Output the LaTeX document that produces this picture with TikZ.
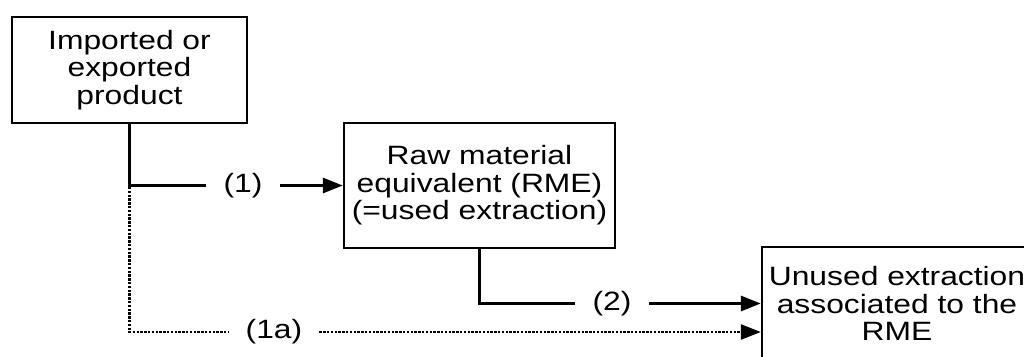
\documentclass[tikz,border=0pt]{standalone}
\usepackage{fontspec}
\setmainfont{Liberation Sans}[FakeStretch=1.2]
\usetikzlibrary{arrows.meta}
\tikzset{
  box/.style={draw=black, line width=2.4pt, fill=white, align=center,
    inner sep=0pt, font=\fontsize{26.5}{27.5}\selectfont},
  lbl/.style={fill=white, inner xsep=17pt, inner ysep=2pt,
    font=\fontsize{26.5}{27}\selectfont},
  flow/.style={line width=3pt},
  dotflow/.style={line width=2.4pt, dash pattern=on 2.4pt off 1.4pt},
  tip/.style={-{Triangle[length=20pt,width=15pt]}}
}
\begin{document}
\begin{tikzpicture}[x=1pt,y=-1pt]
  \useasboundingbox (0,0) rectangle (1024,356);
  \clip (0,0) rectangle (1024,356);
  \fill[white] (0,0) rectangle (1024,356);

  % boxes
  \node[box, minimum width=235pt, minimum height=106pt] (prod) at (129.5,70)
    {Imported or\\exported\\product};
  \node[box, minimum width=271pt, minimum height=125pt] (rme) at (479.5,185.5)
    {Raw material\\equivalent (RME)\\(=used extraction)};
  \node[box, minimum width=270pt, minimum height=113pt] (unused) at (897,303.5)
    {Unused extraction\\associated to the\\RME};

  % labels on the flows
  \node[lbl] (l1) at (243,185.5) {(1)};
  \node[lbl] (l2) at (612,303.5) {(2)};
  \node[lbl] (l1a) at (274,332) {(1a)};

  \coordinate (fork) at (prod.south |- l1);
  \coordinate (in1a) at ([yshift=-28.5pt]unused.west);

  % flow (1)
  \draw[flow] (prod.south) -- (fork) -- (l1.west);
  \draw[flow, tip] (l1.east) -- (rme.west);
  % flow (2)
  \draw[flow] (rme.south) |- (l2.west);
  \draw[flow, tip] (l2.east) -- (unused.west);
  % flow (1a)
  \draw[dotflow] ([yshift=-1.5pt]fork) |- (l1a.west);
  \draw[dotflow, tip] (l1a.east) -- (in1a);
\end{tikzpicture}
\end{document}
